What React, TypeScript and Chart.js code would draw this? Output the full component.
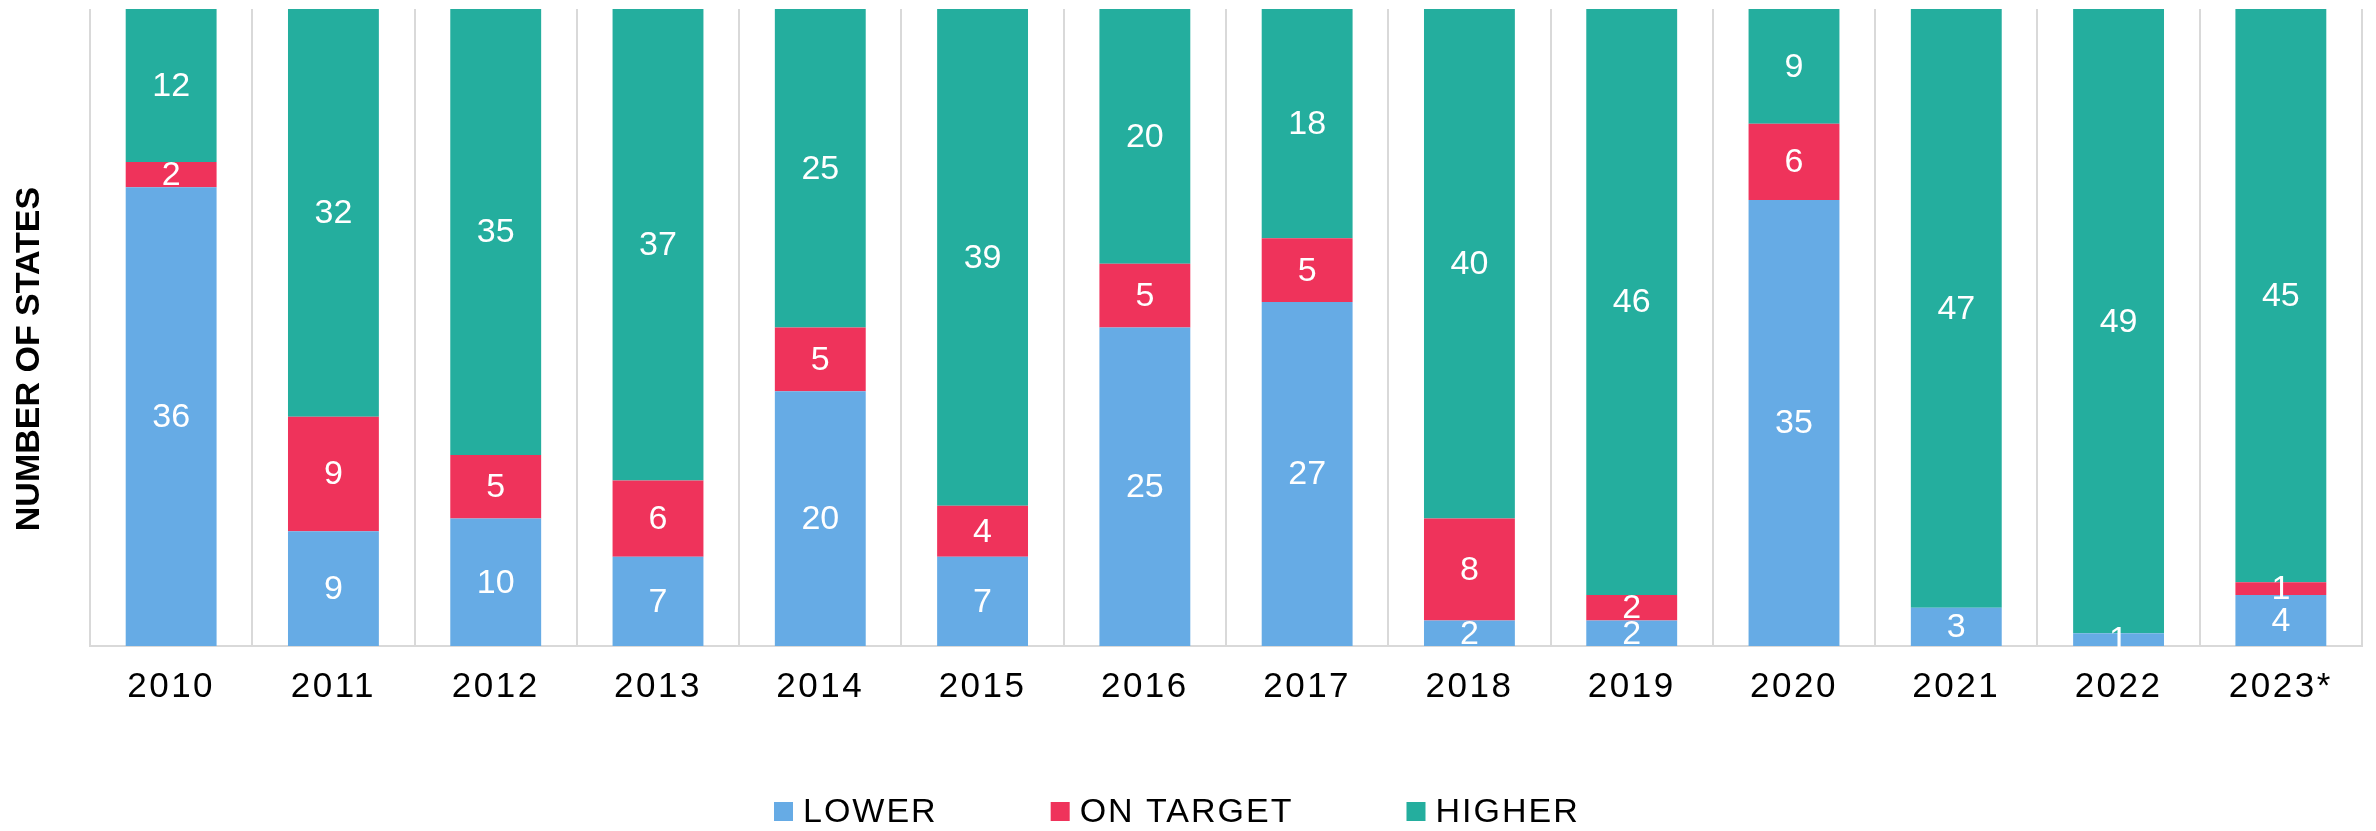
import React, { useEffect, useRef } from "react";
import { Chart, registerables } from "chart.js";

Chart.register(...registerables);

const categories = ["2010", "2011", "2012", "2013", "2014", "2015", "2016", "2017", "2018", "2019", "2020", "2021", "2022", "2023*"];
const lowerValues = [36, 9, 10, 7, 20, 7, 25, 27, 2, 2, 35, 3, 1, 4];
const onTargetValues = [2, 9, 5, 6, 5, 4, 5, 5, 8, 2, 6, 0, 0, 1];
const higherValues = [12, 32, 35, 37, 25, 39, 20, 18, 40, 46, 9, 47, 49, 45];
const seriesNames = ["LOWER", "ON TARGET", "HIGHER"];
const seriesColors = ["#66ABE5", "#EF335B", "#24AE9E"];
const yTitle = "NUMBER OF STATES";

const FONT = '"Liberation Sans", Arial, sans-serif';

const dataLabelPlugin = {
  id: "dataLabels",
  beforeDraw(chart: any) {
    chart.ctx.letterSpacing = "2.5px";
  },
  beforeDatasetsDraw(chart: any) {
    chart.ctx.letterSpacing = "0px";
  },
  afterDatasetsDraw(chart: any) {
    const ctx = chart.ctx;
    ctx.save();
    ctx.letterSpacing = "0px";
    ctx.fillStyle = "#ffffff";
    ctx.font = `34px ${FONT}`;
    ctx.textAlign = "center";
    ctx.textBaseline = "middle";
    chart.data.datasets.forEach((ds: any, di: number) => {
      const meta = chart.getDatasetMeta(di);
      meta.data.forEach((bar: any, i: number) => {
        const v = ds.data[i];
        if (!v) return;
        const y = (bar.y + bar.base) / 2;
        ctx.fillText(String(v), bar.x, y + 1);
      });
    });
    ctx.restore();
  },
  afterDraw(chart: any) {
    const ctx = chart.ctx;
    // y axis title
    ctx.save();
    ctx.letterSpacing = "0px";
    ctx.fillStyle = "#000000";
    ctx.font = `bold 34px ${FONT}`;
    ctx.translate(30, 359);
    ctx.rotate(-Math.PI / 2);
    ctx.textAlign = "center";
    ctx.textBaseline = "middle";
    ctx.fillText(yTitle, 0, 0);
    ctx.restore();

    // legend
    ctx.save();
    ctx.font = `34px ${FONT}`;
    ctx.letterSpacing = "2px";
    ctx.textBaseline = "middle";
    ctx.textAlign = "left";
    let x = 774;
    const cy = 811.5;
    seriesNames.forEach((name, i) => {
      ctx.fillStyle = seriesColors[i];
      ctx.fillRect(x, cy - 9.5, 19, 19);
      ctx.fillStyle = "#000000";
      ctx.fillText(name, x + 29, cy + 1);
      const w = ctx.measureText(name).width;
      x += 29 + w + 113;
    });
    ctx.restore();
  },
};

export default function App() {
  const ref = useRef<HTMLCanvasElement>(null);
  useEffect(() => {
    if (!ref.current) return;
    const chart = new Chart(ref.current, {
      type: "bar",
      data: {
        labels: categories,
        datasets: [
          { label: seriesNames[0], data: lowerValues, backgroundColor: seriesColors[0], borderWidth: 0 },
          { label: seriesNames[1], data: onTargetValues, backgroundColor: seriesColors[1], borderWidth: 0 },
          { label: seriesNames[2], data: higherValues, backgroundColor: seriesColors[2], borderWidth: 0 },
        ],
      },
      options: {
        responsive: false,
        animation: false,
        devicePixelRatio: 1,
        layout: { padding: { left: 90, top: 9, right: 14, bottom: 0 } },
        datasets: { bar: { categoryPercentage: 1, barPercentage: 0.56 } },
        plugins: { legend: { display: false }, tooltip: { enabled: false }, title: { display: false } },
        scales: {
          x: {
            stacked: true,
            grid: { display: true, color: "#d9d9d9", lineWidth: 2, drawTicks: false, offset: true },
            border: { display: true, color: "#d9d9d9", width: 2 },
            ticks: { color: "#000000", padding: 20, font: { family: FONT, size: 35 }, maxRotation: 0, autoSkip: false },
            afterFit: (scale: any) => {
              scale.height = 185;
            },
          },
          y: {
            stacked: true,
            display: false,
            min: 0,
            max: 50,
          },
        },
      },
      plugins: [dataLabelPlugin],
    } as any);
    return () => chart.destroy();
  }, []);
  return (
    <div style={{ position: "fixed", left: 0, top: 0, width: 2376, height: 831, background: "#ffffff" }}>
      <canvas ref={ref} width={2376} height={831} style={{ display: "block" }} />
    </div>
  );
}
